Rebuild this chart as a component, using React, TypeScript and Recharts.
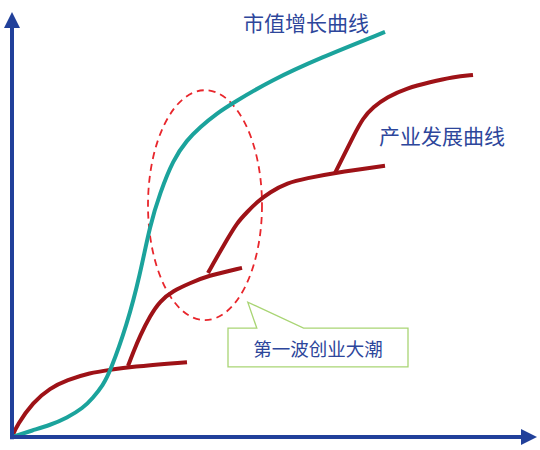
import React from 'react';
import { ComposedChart, Line, XAxis, YAxis, ReferenceLine, ReferenceArea, ReferenceDot } from 'recharts';

type Pt = { x: number; y: number };

// market value S-curve (teal)
const marketValueCurve: Pt[] = [
  { x: 0, y: 0 }, { x: 4.2, y: 1.6 }, { x: 7.6, y: 2.8 }, { x: 11, y: 4.5 }, { x: 14.2, y: 6.8 },
  { x: 16.2, y: 9.2 }, { x: 18.2, y: 12.2 }, { x: 19.6, y: 15.3 }, { x: 23, y: 26.4 },
  { x: 25.6, y: 38.1 }, { x: 27.6, y: 49.9 }, { x: 29.6, y: 57.4 }, { x: 32.2, y: 65.2 },
  { x: 35, y: 69.9 }, { x: 37.6, y: 72.9 }, { x: 41, y: 76.2 }, { x: 44.2, y: 78.6 },
  { x: 51.6, y: 83.8 }, { x: 61.6, y: 89.2 }, { x: 74.6, y: 95.3 },
];

// industry development waves (dark red)
const industryWave1: Pt[] = [
  { x: 0, y: 0 }, { x: 1, y: 2.8 }, { x: 4.2, y: 8.2 }, { x: 7.6, y: 11.5 }, { x: 11, y: 13.4 },
  { x: 15.6, y: 15.1 }, { x: 19.6, y: 15.8 }, { x: 23.6, y: 16.5 }, { x: 35, y: 17.6 },
];
const industryWave2: Pt[] = [
  { x: 23.2, y: 16.7 }, { x: 24.2, y: 19.8 }, { x: 25.6, y: 23.8 }, { x: 27.6, y: 28.5 }, { x: 29.6, y: 32 },
  { x: 32.2, y: 34.4 }, { x: 35.6, y: 36.2 }, { x: 39, y: 37.9 }, { x: 46, y: 39.8 },
];
const industryWave3: Pt[] = [
  { x: 39.2, y: 38.6 }, { x: 41, y: 42.4 }, { x: 43, y: 46.4 }, { x: 45, y: 50.4 }, { x: 47, y: 52.9 },
  { x: 49, y: 55.3 }, { x: 51.6, y: 57.6 }, { x: 55, y: 59.8 }, { x: 59, y: 60.9 }, { x: 64.2, y: 62.1 },
  { x: 74.6, y: 63.8 },
];
const industryWave4: Pt[] = [
  { x: 64.6, y: 62.1 }, { x: 66.2, y: 65.9 }, { x: 68.2, y: 70.6 }, { x: 70.2, y: 75.1 }, { x: 72.2, y: 77.6 },
  { x: 75, y: 80 }, { x: 79, y: 82.1 }, { x: 83.6, y: 83.5 }, { x: 88.2, y: 84.7 }, { x: 92.2, y: 85.2 },
];
const industryWaves = [industryWave1, industryWave2, industryWave3, industryWave4];

const curveLabels = [
  { text: '市值增长曲线', x: 58.8, y: 97.6 },
  { text: '产业发展曲线', x: 86, y: 71.1 },
];

const calloutText = '第一波创业大潮';
const calloutBox = { x1: 43.2, x2: 79.2, y1: 16.5, y2: 25.6 };
const highlightArea = { x1: 27.2, x2: 50, y1: 27.5, y2: 81.6 };

const AXIS_BLUE = '#21409a';
const TEXT_BLUE = '#2d469b';
const FONT = '"Noto Sans CJK SC", "Noto Sans", sans-serif';

const ArrowShape = (props: any) => {
  const { x1, y1, x2, y2 } = props;
  const len = Math.hypot(x2 - x1, y2 - y1) || 1;
  const ux = (x2 - x1) / len;
  const uy = (y2 - y1) / len;
  const head = 16;
  const half = 8;
  const bx = x2 - ux * head;
  const by = y2 - uy * head;
  const pts = `${x2},${y2} ${bx - uy * half},${by + ux * half} ${bx + uy * half},${by - ux * half}`;
  return (
    <g>
      <line x1={x1} y1={y1} x2={bx + ux * 2} y2={by + uy * 2} stroke={AXIS_BLUE} strokeWidth={4} />
      <polygon points={pts} fill={AXIS_BLUE} />
    </g>
  );
};

const EllipseShape = (props: any) => {
  const { x, y, width, height } = props;
  return (
    <ellipse
      cx={x + width / 2}
      cy={y + height / 2}
      rx={width / 2}
      ry={height / 2}
      fill="none"
      stroke="#e8262c"
      strokeWidth={1.8}
      strokeDasharray="7 5"
    />
  );
};

const CalloutShape = (props: any) => {
  const { x, y, width, height } = props;
  const b1 = x + width * 0.16;
  const b2 = x + width * 0.42;
  const tipX = x + width * 0.11;
  const tipY = y - 26;
  const d = `M${x},${y} L${b1},${y} L${tipX},${tipY} L${b2},${y} L${x + width},${y} L${x + width},${y + height} L${x},${y + height} Z`;
  return (
    <g>
      <path d={d} fill="#ffffff" stroke="#a9d574" strokeWidth={1.3} />
      <text
        x={x + width / 2}
        y={y + height / 2}
        textAnchor="middle"
        dominantBaseline="central"
        fontSize={18.5}
        fontFamily={FONT}
        fill={TEXT_BLUE}
      >
        {calloutText}
      </text>
    </g>
  );
};

const makeTextShape = (text: string) => (props: any) => (
  <text
    x={props.cx}
    y={props.cy}
    textAnchor="middle"
    dominantBaseline="central"
    fontSize={21}
    fontFamily={FONT}
    fill={TEXT_BLUE}
  >
    {text}
  </text>
);

export default function App() {
  return (
    <div style={{ position: 'absolute', left: 0, top: 0, width: 540, height: 450, background: '#fff' }}>
      <ComposedChart width={540} height={450} margin={{ top: 12, right: 3, bottom: 13, left: 12 }}>
        <XAxis type="number" dataKey="x" domain={[0, 105]} hide allowDataOverflow />
        <YAxis type="number" dataKey="y" domain={[0, 100]} hide allowDataOverflow />
        {industryWaves.map((wave, i) => (
          <Line
            key={`wave-${i}`}
            data={wave}
            dataKey="y"
            type="basis"
            stroke="#9e1217"
            strokeWidth={4}
            dot={false}
            activeDot={false}
            isAnimationActive={false}
          />
        ))}
        <Line
          data={marketValueCurve}
          dataKey="y"
          type="basis"
          stroke="#1ba39c"
          strokeWidth={4}
          dot={false}
          activeDot={false}
          isAnimationActive={false}
        />
        <ReferenceArea {...highlightArea} ifOverflow="visible" shape={EllipseShape} />
        <ReferenceArea {...calloutBox} ifOverflow="visible" shape={CalloutShape} />
        {curveLabels.map((l) => (
          <ReferenceDot key={l.text} x={l.x} y={l.y} r={1} ifOverflow="visible" shape={makeTextShape(l.text)} />
        ))}
        <ReferenceLine segment={[{ x: -0.4, y: 0 }, { x: 105, y: 0 }]} ifOverflow="visible" shape={ArrowShape} />
        <ReferenceLine segment={[{ x: 0, y: -0.5 }, { x: 0, y: 100 }]} ifOverflow="visible" shape={ArrowShape} />
      </ComposedChart>
    </div>
  );
}
